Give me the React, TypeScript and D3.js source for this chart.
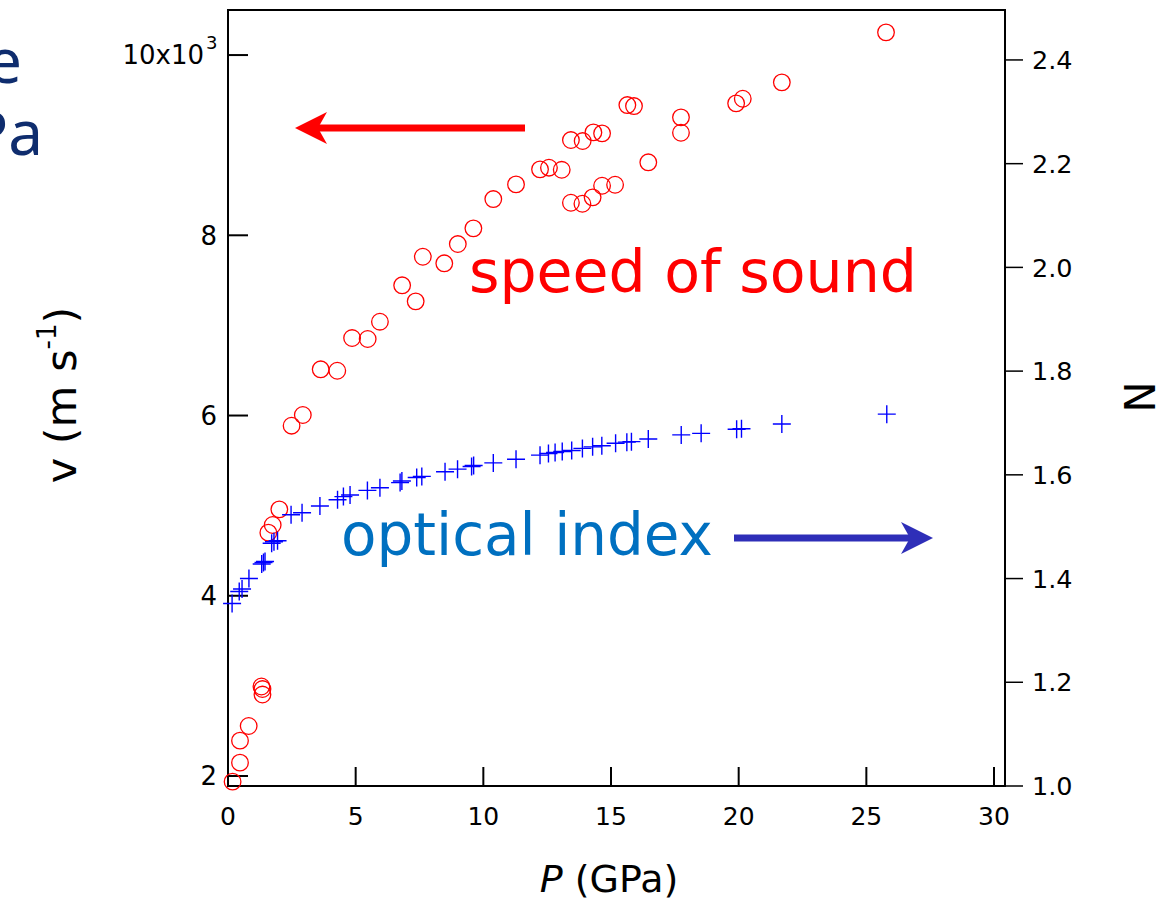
import React from "react";
import * as d3 from "d3";

// ---- data ----
const P_SOUND = [0.18, 0.47, 0.47, 0.81, 1.31, 1.35, 1.35, 1.58, 1.75, 2.01, 2.49, 2.93, 3.63, 4.28, 4.86, 5.47, 5.95, 6.82, 7.35, 7.63, 8.47, 9.0, 9.61, 10.39, 11.28, 12.22, 12.57, 13.07, 13.43, 13.89, 14.31, 14.65, 15.64, 15.9, 17.74, 17.74, 16.46, 13.43, 13.88, 14.28, 14.65, 15.16, 19.9, 20.16, 21.69, 25.77];
const V_SOUND = [1937, 2148, 2392, 2555, 2993, 2965, 2904, 4700, 4785, 4959, 5887, 6006, 6513, 6497, 6860, 6849, 7041, 7445, 7267, 7762, 7689, 7903, 8077, 8402, 8565, 8732, 8750, 8727, 9057, 9046, 9142, 9131, 9445, 9434, 9309, 9138, 8810, 8361, 8350, 8421, 8550, 8561, 9464, 9515, 9697, 10252];

const P_INDEX = [0.16, 0.44, 0.55, 0.82, 1.32, 1.39, 1.45, 1.71, 1.8, 1.94, 2.47, 2.9, 3.6, 4.29, 4.52, 4.78, 5.46, 5.95, 6.74, 6.81, 7.39, 7.59, 8.5, 8.99, 9.54, 9.62, 10.39, 11.28, 12.22, 12.55, 12.81, 13.09, 13.46, 13.88, 14.28, 14.64, 15.18, 15.62, 15.8, 16.46, 17.75, 18.53, 19.92, 20.11, 21.69, 25.8];
const N_INDEX = [1.352, 1.375, 1.38, 1.4, 1.428, 1.431, 1.433, 1.468, 1.471, 1.473, 1.523, 1.527, 1.54, 1.552, 1.558, 1.561, 1.57, 1.575, 1.585, 1.588, 1.595, 1.597, 1.606, 1.611, 1.616, 1.618, 1.623, 1.63, 1.638, 1.641, 1.643, 1.645, 1.647, 1.651, 1.654, 1.656, 1.661, 1.663, 1.664, 1.669, 1.677, 1.68, 1.688, 1.689, 1.698, 1.717];

const X_TICKS = [0, 5, 10, 15, 20, 25, 30];
const V_TICKS = [2000, 4000, 6000, 8000, 10000];
const V_TICK_LABELS = ["2", "4", "6", "8", "10x10"];
const N_TICKS = [1.0, 1.2, 1.4, 1.6, 1.8, 2.0, 2.2, 2.4];

const X_DOMAIN = [0, 30.43];
const V_DOMAIN = [1889, 10500];
const N_DOMAIN = [1.0, 2.4963];

const FONT = "'DejaVu Sans', Verdana, sans-serif";

export default function App() {
  const W = 1169, H = 899;
  const left = 228, right = 1005, top = 10, bottom = 786;
  const x = d3.scaleLinear().domain(X_DOMAIN).range([left, right]);
  const yV = d3.scaleLinear().domain(V_DOMAIN).range([bottom, top]);
  const yN = d3.scaleLinear().domain(N_DOMAIN).range([bottom, top]);

  const crossPath = (cx: number, cy: number, s = 9) =>
    `M${cx - s},${cy}H${cx + s}M${cx},${cy - s}V${cy + s}`;

  return (
    <svg
      width={W}
      height={H}
      viewBox={`0 0 ${W} ${H}`}
      style={{ position: "absolute", left: 0, top: 0, background: "#fff" }}
      fontFamily={FONT}
    >
      <rect x={0} y={0} width={W} height={H} fill="#fff" />

      {/* cut-off slide text */}
      <text x={22} y={83} fontSize={62} fill="#0f2d6e" textAnchor="end" fontFamily="'Noto Sans', sans-serif">e</text>
      <text x={43} y={155} fontSize={62} fill="#0f2d6e" textAnchor="end" fontFamily="'Noto Sans', sans-serif">Pa</text>

      {/* frame */}
      <path d={`M${left},${top}H${right}V${bottom}H${left}Z`} fill="none" stroke="#000" strokeWidth={2} />

      {/* x ticks (inside) */}
      {X_TICKS.map((t) => (
        <g key={"x" + t}>
          <line x1={x(t)} x2={x(t)} y1={bottom} y2={bottom - 19} stroke="#000" strokeWidth={2} />
          <text x={x(t)} y={825} fontSize={25} textAnchor="middle" fill="#000">{t}</text>
        </g>
      ))}

      {/* left ticks (inside) */}
      {V_TICKS.map((t, i) => (
        <g key={"v" + t}>
          <line x1={left} x2={left + 20} y1={yV(t)} y2={yV(t)} stroke="#000" strokeWidth={2} />
          <text x={i === V_TICKS.length - 1 ? 204 : 217} y={yV(t)} dy="0.36em" fontSize={26} textAnchor="end" fill="#000">
            {V_TICK_LABELS[i]}
          </text>
          {i === V_TICKS.length - 1 && (
            <text x={206} y={yV(t) - 6} fontSize={18} textAnchor="start" fill="#000">3</text>
          )}
        </g>
      ))}

      {/* right ticks (outside) */}
      {N_TICKS.map((t) => (
        <g key={"n" + t}>
          <line x1={right} x2={right + 18} y1={yN(t)} y2={yN(t)} stroke="#000" strokeWidth={1.5} />
          <text x={1032} y={yN(t)} dy="0.36em" fontSize={25.5} textAnchor="start" fill="#000">{t.toFixed(1)}</text>
        </g>
      ))}

      {/* axis labels */}
      <text x={609} y={892} fontSize={38} textAnchor="middle" fill="#000">
        <tspan fontStyle="italic">P</tspan> (GPa)
      </text>
      <text transform="translate(76,395) rotate(-90)" fontSize={43} textAnchor="middle" fill="#000">
        v (m s<tspan dy={-20} fontSize={26}>-1</tspan><tspan dy={20}>)</tspan>
      </text>
      <text transform="translate(1124,397) rotate(90)" fontSize={42} textAnchor="middle" fill="#000">N</text>

      {/* speed of sound circles */}
      {P_SOUND.map((p, i) => (
        <circle key={"c" + i} cx={x(p)} cy={yV(V_SOUND[i])} r={8.3} fill="none" stroke="#ff0000" strokeWidth={1.3} />
      ))}

      {/* optical index crosses */}
      {P_INDEX.map((p, i) => (
        <path key={"p" + i} d={crossPath(x(p), yN(N_INDEX[i]))} fill="none" stroke="#0000ff" strokeWidth={1.4} />
      ))}

      {/* annotations */}
      <text x={469} y={292} fontSize={58.5} fill="#ff0000">speed of sound</text>
      <line x1={525} y1={128} x2={312} y2={128} stroke="#ff0000" strokeWidth={7} />
      <polygon points="295,128 327,112 318,128 327,144" fill="#ff0000" />

      <text x={341} y={555} fontSize={58} fill="#0070c0">optical index</text>
      <line x1={734} y1={538} x2={916} y2={538} stroke="#2e2eb8" strokeWidth={7} />
      <polygon points="933,538 901,522 910,538 901,554" fill="#2e2eb8" />
    </svg>
  );
}
